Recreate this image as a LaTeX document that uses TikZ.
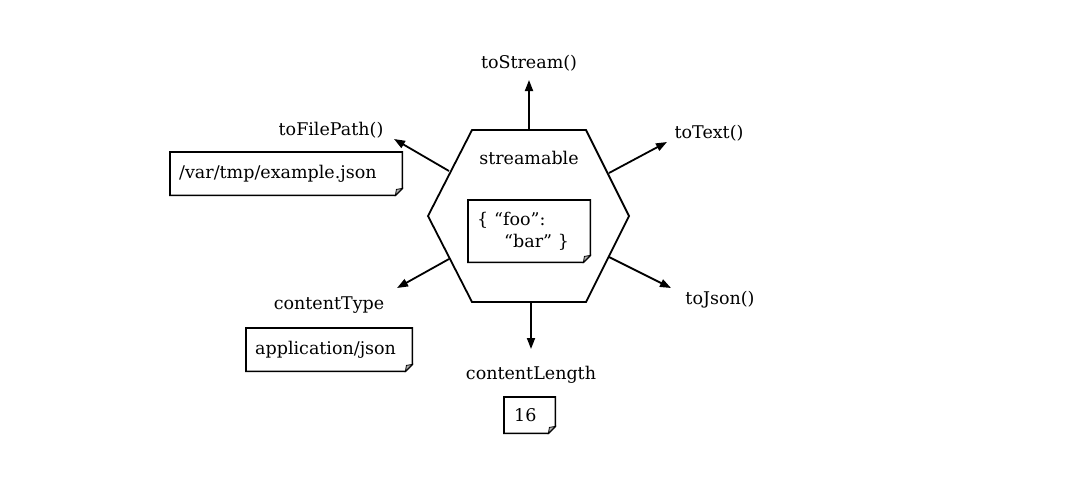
\documentclass[tikz,border=0pt]{standalone}
\usepackage{fontspec}
\setmainfont{DejaVu Serif}
\usetikzlibrary{arrows.meta, positioning}
\tikzstyle{arrow} = [line width=1.8pt,-{Triangle[length=11pt,width=8pt]}]
\tikzstyle{methodtext} = [font=\fontsize{17.5}{21}\selectfont]
\tikzstyle{note} = [anchor=north west, inner xsep=9pt, inner ysep=0pt, align=left, font=\fontsize{17.5}{21.5}\selectfont]

\begin{document}
\begin{tikzpicture}[x=1pt, y=-1pt]
    \useasboundingbox (0,0) rectangle (1084,477);
    % the streamable hexagon
    \draw [line width=1.8pt] (472,130) -- (586,130) -- (629,216) -- (586,302) -- (472,302) -- (428,216) -- cycle;
    \node (name) [methodtext] at (529,158) {streamable};
    \node (bodynote) [note, minimum width=122pt, minimum height=62pt, text width=104pt] at (468,200) {\{ “foo”:\\\hspace{27pt}“bar” \}};
    % edge points and free ends
    \coordinate (top) at (529,130);
    \coordinate (upright) at (609,173);
    \coordinate (lowright) at (609,257);
    \coordinate (bottom) at (531,302);
    \coordinate (lowleft) at (449,259);
    \coordinate (upleft) at (449,171);
    \coordinate (streamend) at (529,80);
    \coordinate (textend) at (667,142);
    \coordinate (jsonend) at (671,288);
    \coordinate (lengthend) at (531,349);
    \coordinate (typeend) at (397,288);
    \coordinate (pathend) at (394,139);
    \draw [arrow] (top) -- (streamend);
    \draw [arrow] (upright) -- (textend);
    \draw [arrow] (lowright) -- (jsonend);
    \draw [arrow] (bottom) -- (lengthend);
    \draw [arrow] (lowleft) -- (typeend);
    \draw [arrow] (upleft) -- (pathend);
    % method names
    \node (stream) [methodtext] at (529,63) {toStream()};
    \node (text) [methodtext] at (709,133) {toText()};
    \node (json) [methodtext] at (720,300) {toJson()};
    \node (length) [methodtext] at (531,375) {contentLength};
    \node (type) [methodtext] at (329,305) {contentType};
    \node (path) [methodtext] at (331,130) {toFilePath()};
    % values
    \node (pathnote) [note, minimum width=232pt, minimum height=43pt, text width=214pt] at (170,152) {/var/tmp/example.json};
    \node (typenote) [note, minimum width=166pt, minimum height=43pt, text width=148pt] at (246,328) {application/json};
    \node (lengthnote) [note, minimum width=49pt, minimum height=36pt, text width=31pt, inner xsep=10pt] at (504,397) {16};
    \foreach \n in {pathnote, typenote, lengthnote, bodynote} {
        \draw [line width=1.6pt, line join=miter] (\n.north west) -- (\n.north east) -- ([yshift=7pt]\n.south east) -- ([xshift=-7pt]\n.south east) -- (\n.south west) -- cycle;
        \filldraw [line width=0.8pt, fill=gray!60] ([yshift=7pt]\n.south east) -- ([xshift=-7pt]\n.south east) -- ([xshift=-6pt,yshift=6pt]\n.south east) -- cycle;
    }
\end{tikzpicture}
\end{document}
